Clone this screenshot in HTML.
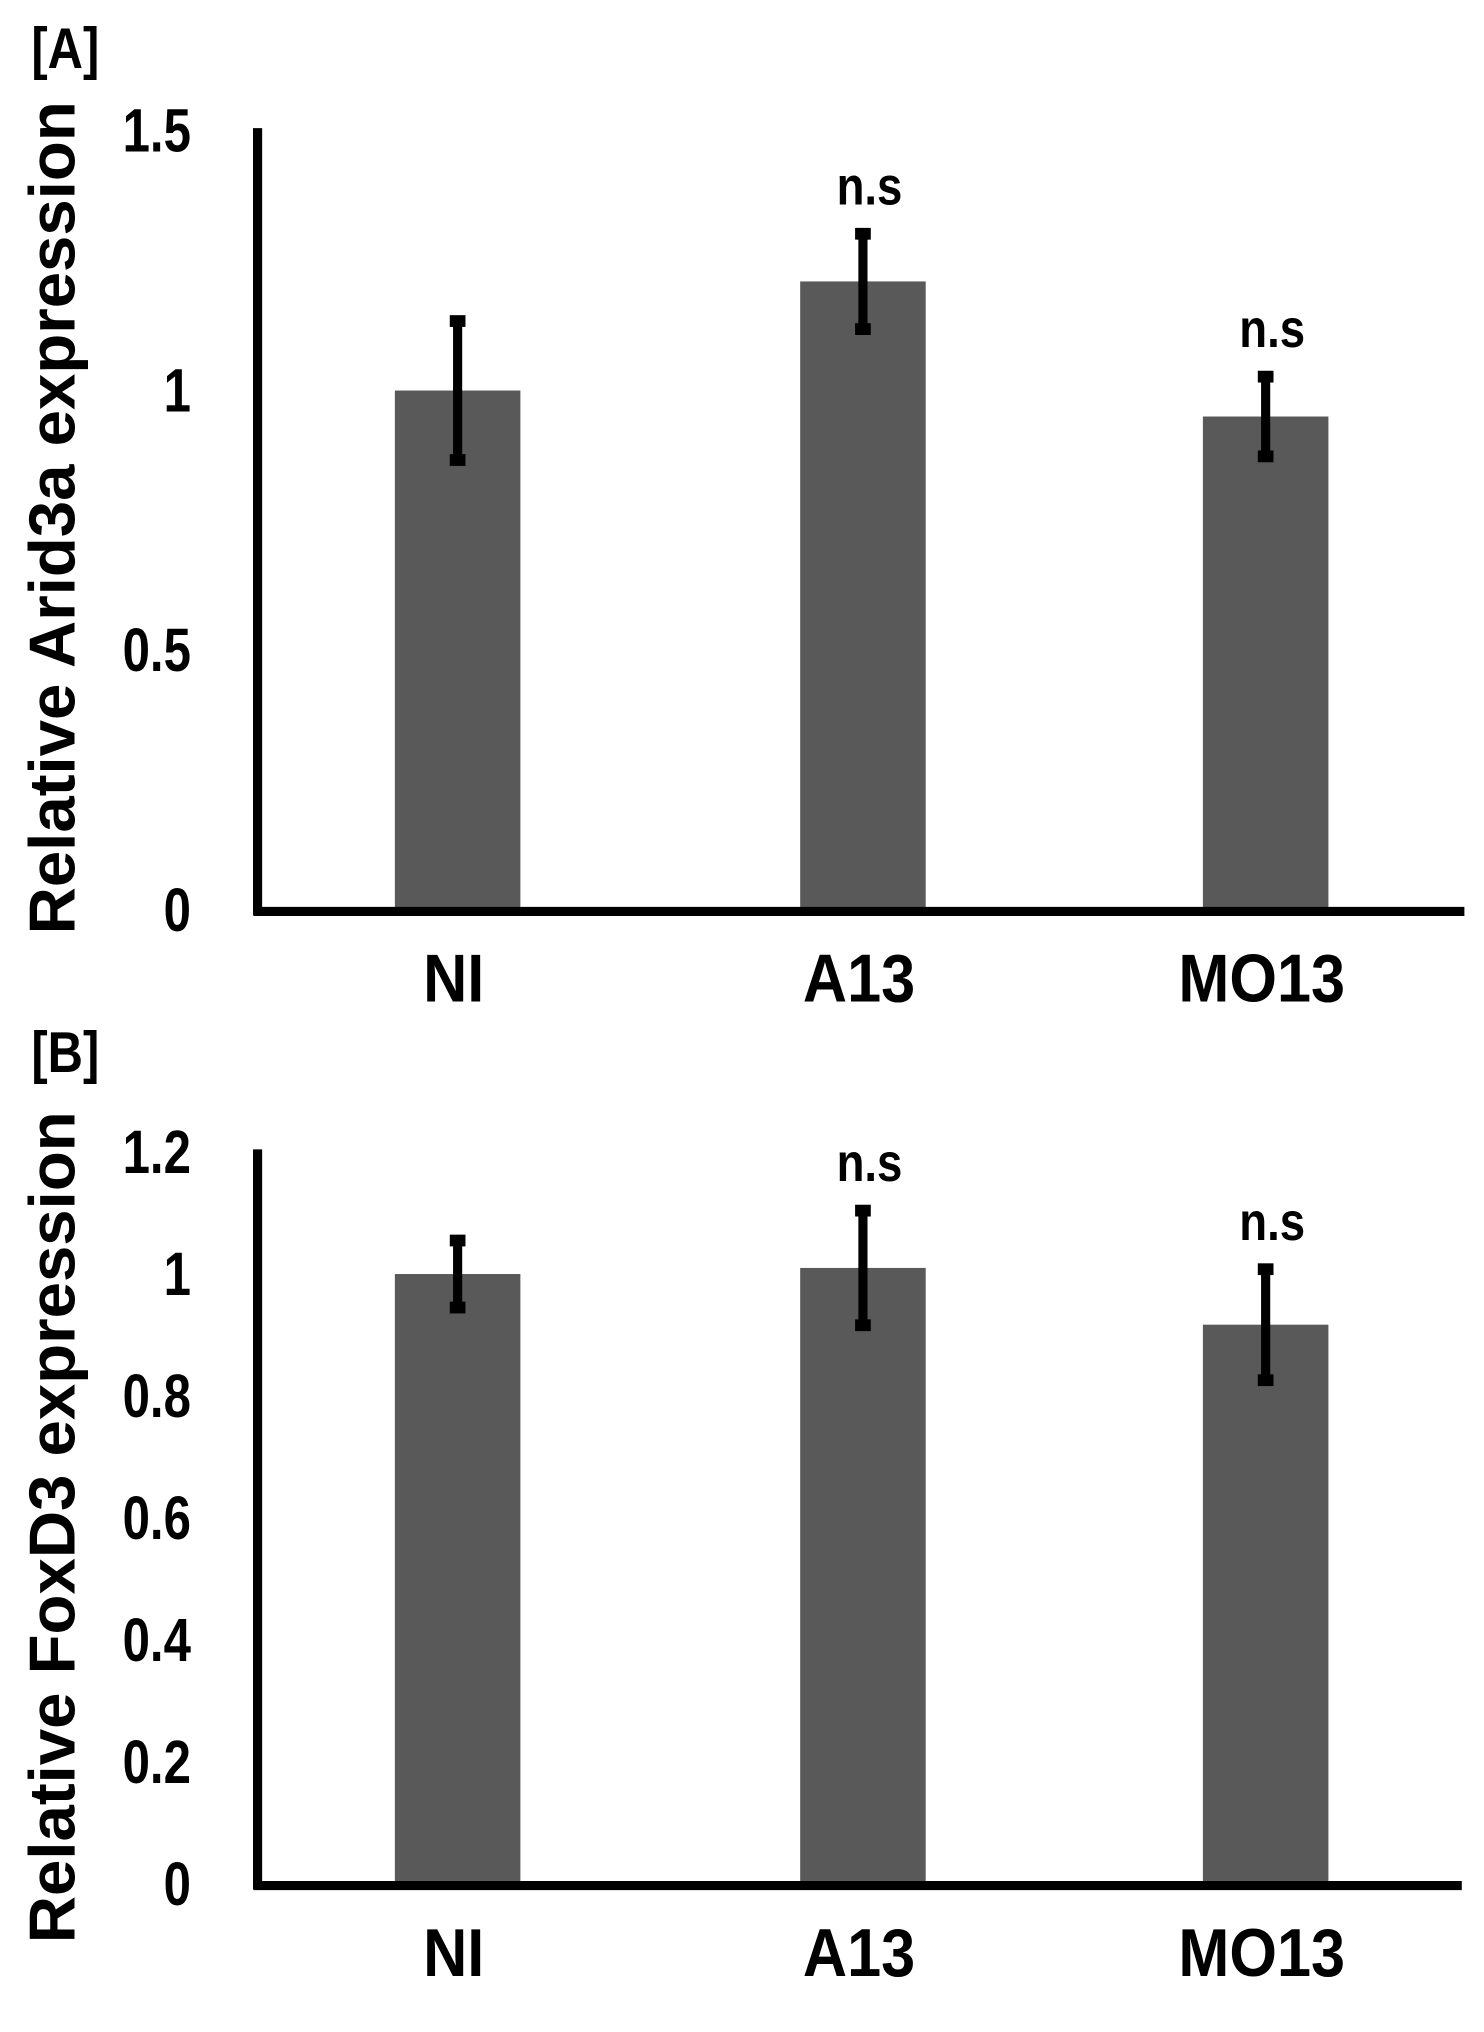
<!DOCTYPE html>
<html><head><meta charset="utf-8"><style>
html,body{margin:0;padding:0;background:#fff;}
svg{display:block;}
.tk{font-family:"Liberation Sans",sans-serif;font-weight:bold;font-size:47px;fill:#000;}
.cat{font-family:"Liberation Sans",sans-serif;font-weight:bold;font-size:52px;fill:#000;}
.ns{font-family:"Liberation Sans",sans-serif;font-weight:bold;font-size:41px;fill:#000;}
.yt{font-family:"Liberation Sans",sans-serif;font-weight:bold;font-size:50px;fill:#000;}
.pl{font-family:"Liberation Sans",sans-serif;font-weight:bold;font-size:44px;fill:#000;}
</style></head><body>
<svg id="fig" width="1484" height="2032" viewBox="0 0 1135 1554" preserveAspectRatio="none"></svg>
<script>
const categories = ["NI", "A13", "MO13"];
const valuesA = [1.0, 1.21, 0.95];
const errA = [0.135, 0.093, 0.078];
const sigA = ["", "n.s", "n.s"];
const ticksA = [0, 0.5, 1, 1.5];
const tickLabelsA = ["0", "0.5", "1", "1.5"];
const valuesB = [1.0, 1.01, 0.917];
const errB = [0.056, 0.095, 0.092];
const sigB = ["", "n.s", "n.s"];
const ticksB = [0, 0.2, 0.4, 0.6, 0.8, 1, 1.2];
const tickLabelsB = ["0", "0.2", "0.4", "0.6", "0.8", "1", "1.2"];

const NS = "http://www.w3.org/2000/svg";
const svg = document.getElementById("fig");
function mk(tag, attrs, parent){const e=document.createElementNS(NS,tag);for(const k in attrs)e.setAttribute(k,attrs[k]);(parent||svg).appendChild(e);return e;}

function chart(cfg){
  const g = mk("g",{});
  
  
  const y = v => cfg.y0 - (v - 0) / cfg.max * (cfg.y0 - cfg.yTop);
  const barX = [350, 660, 968];
  const bw = 96;
  cfg.values.forEach((v,i)=>{
    const r = mk("rect",{x:barX[i]-bw/2,y:y(v),width:bw,height:cfg.y0-y(v),fill:"#595959"},g);
    
    
  });
  cfg.values.forEach((v,i)=>{
    const hi=y(v+cfg.err[i]), lo=y(v-cfg.err[i]);
    const eg = mk("g",{},g);
    
    
    mk("line",{x1:barX[i],x2:barX[i],y1:hi,y2:lo,stroke:"#000","stroke-width":7},eg);
    mk("rect",{x:barX[i]-6,y:hi-4,width:12,height:9,fill:"#000"},eg);
    mk("rect",{x:barX[i]-6,y:lo-5,width:12,height:9,fill:"#000"},eg);
    if(cfg.sig[i]){
      const t = mk("text",{x:0,y:0,"text-anchor":"middle",class:"ns",transform:"translate("+(barX[i]+5)+","+(hi-22)+") scale(0.85,1)"},g);
      t.textContent = cfg.sig[i];
      
      
    }
  });
  const ya = mk("line",{x1:197,x2:197,y1:cfg.yTop-2,y2:cfg.y0+4,stroke:"#000","stroke-width":7},g);
  
  
  const xa = mk("line",{x1:194,x2:cfg.xEnd,y1:cfg.y0+1,y2:cfg.y0+1,stroke:"#000","stroke-width":7},g);
  
  
  cfg.ticks.forEach((v,i)=>{
    const t = mk("text",{x:0,y:0,"text-anchor":"end",class:"tk",transform:"translate(146,"+(y(v)+16)+") scale(0.8,1)"},g);
    t.textContent = cfg.tickLabels[i];
    
    
  });
  categories.forEach((c,i)=>{
    const t = mk("text",{x:0,y:0,"text-anchor":"middle",class:"cat",transform:"translate("+(barX[i]-3)+","+(cfg.y0+70)+") scale(0.9,1)"},g);
    t.textContent = c;
    
    
  });
  const yt = mk("text",{x:0,y:0,"text-anchor":"middle",class:"yt",transform:"translate(57,"+cfg.titleY+") rotate(-90)"},g);
  yt.textContent = cfg.title;
  
  
  const pl = mk("text",{x:0,y:0,class:"pl",transform:"translate(24,"+cfg.panelY+") scale(0.85,1)"},g);
  pl.textContent = cfg.panel;
  
  
}

chart({name:"chart-arid3a",values:valuesA,err:errA,sig:sigA,ticks:ticksA,tickLabels:tickLabelsA,max:1.5,yTop:100,y0:696,xEnd:1120,title:"Relative Arid3a expression",titleY:396,panel:"[A]",panelY:52});
chart({name:"chart-foxd3",values:valuesB,err:errB,sig:sigB,ticks:ticksB,tickLabels:tickLabelsB,max:1.2,yTop:881,y0:1441,xEnd:1118,title:"Relative FoxD3 expression",titleY:1168,panel:"[B]",panelY:820});
</script>
</body></html>
